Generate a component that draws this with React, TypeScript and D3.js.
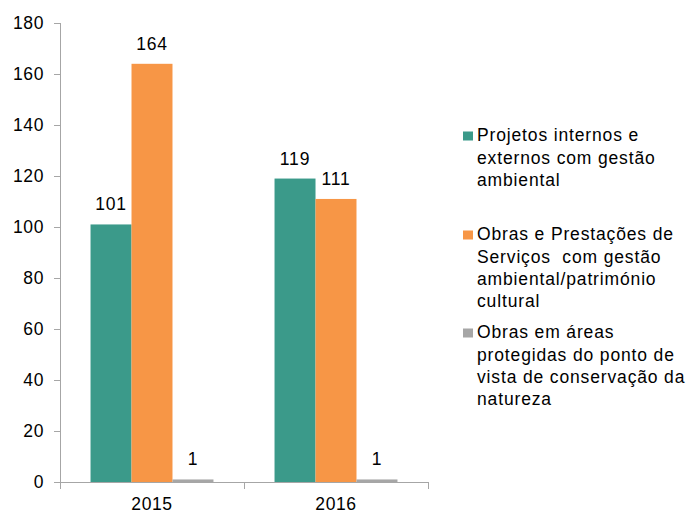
import React from "react";
// @ts-ignore
import * as d3 from "d3";

const categories = ["2015", "2016"];
const seriesNames = [
  "Projetos internos e externos com gestão ambiental",
  "Obras e Prestações de Serviços  com gestão ambiental/património cultural",
  "Obras em áreas protegidas do ponto de vista de conservação da natureza",
];
const legendLines = [
  ["Projetos internos e", "externos com gestão", "ambiental"],
  ["Obras e Prestações de", "Serviços  com gestão", "ambiental/património", "cultural"],
  ["Obras em áreas", "protegidas do ponto de", "vista de conservação da", "natureza"],
];
const values2015 = [101, 164, 1];
const values2016 = [119, 111, 1];
const yTicks = [0, 20, 40, 60, 80, 100, 120, 140, 160, 180];
const colors = ["#3b9a8a", "#f79646", "#a6a6a6"];

const W = 687;
const H = 515;
const FONT = "'Liberation Sans', Arial, sans-serif";
const FS = 17.5;

const App = () => {
  const svgRef = React.useRef<SVGSVGElement>(null);

  React.useEffect(() => {
    const svg = d3.select(svgRef.current);
    svg.selectAll("*").remove();

    const rows = [values2015, values2016];

    const y = d3.scaleLinear().domain([0, 180]).range([482, 23]);
    const x0 = d3.scaleBand().domain(categories).range([60, 428]);
    const x1 = d3
      .scaleBand()
      .domain(d3.range(seriesNames.length))
      .range([0, x0.bandwidth()])
      .paddingInner(0)
      .paddingOuter(0.745);

    const axisColor = "#a6a6a6";

    // y axis
    const ya = svg.append("g");
    ya.append("line")
      .attr("x1", 60.5).attr("x2", 60.5)
      .attr("y1", y(180)).attr("y2", y(0))
      .attr("stroke", axisColor);
    yTicks.forEach((t) => {
      ya.append("line")
        .attr("x1", 54).attr("x2", 60)
        .attr("y1", Math.round(y(t)) + 0.5).attr("y2", Math.round(y(t)) + 0.5)
        .attr("stroke", axisColor);
      ya.append("text")
        .attr("x", 44)
        .attr("y", y(t))
        .attr("dy", "0.35em")
        .attr("text-anchor", "end")
        .attr("font-family", FONT)
        .attr("font-size", FS)
        .attr("letter-spacing", 0.6)
        .attr("fill", "#000")
        .text(t);
    });

    // bars
    const g = svg.append("g");
    categories.forEach((c, ci) => {
      rows[ci].forEach((v, si) => {
        const bx = (x0(c) as number) + (x1(si) as number);
        g.append("rect")
          .attr("x", bx)
          .attr("y", y(v))
          .attr("width", x1.bandwidth())
          .attr("height", y(0) - y(v))
          .attr("fill", colors[si]);
        g.append("text")
          .attr("x", bx + x1.bandwidth() / 2)
          .attr("y", y(v) - 14)
          .attr("text-anchor", "middle")
          .attr("font-family", FONT)
          .attr("font-size", FS)
          .attr("letter-spacing", 0.8)
          .text(v);
      });
    });

    // x axis
    const xa = svg.append("g");
    xa.append("line")
      .attr("x1", 60).attr("x2", 428)
      .attr("y1", 482.5).attr("y2", 482.5)
      .attr("stroke", axisColor);
    [60, ...categories.map((c) => (x0(c) as number) + x0.bandwidth())].forEach((tx) => {
      xa.append("line")
        .attr("x1", Math.round(tx) + 0.5).attr("x2", Math.round(tx) + 0.5)
        .attr("y1", 482).attr("y2", 489)
        .attr("stroke", axisColor);
    });
    categories.forEach((c) => {
      xa.append("text")
        .attr("x", (x0(c) as number) + x0.bandwidth() / 2)
        .attr("y", 510)
        .attr("text-anchor", "middle")
        .attr("font-family", FONT)
        .attr("font-size", FS)
        .attr("letter-spacing", 0.6)
        .text(c);
    });

    // legend
    const lg = svg.append("g");
    const starts = [136, 235, 333];
    legendLines.forEach((lines, i) => {
      lg.append("rect")
        .attr("x", 463)
        .attr("y", starts[i] - 4.5)
        .attr("width", 10)
        .attr("height", 9)
        .attr("fill", colors[i]);
      lines.forEach((ln, j) => {
        lg.append("text")
          .attr("x", 477)
          .attr("y", starts[i] + j * 22.4)
          .attr("dy", "0.3em")
          .attr("font-family", FONT)
          .attr("font-size", FS)
          .attr("letter-spacing", 0.85)
          .attr("xml:space", "preserve")
          .text(ln);
      });
    });
  }, []);

  return (
    <svg
      ref={svgRef}
      width={W}
      height={H}
      style={{ position: "absolute", left: 0, top: 0, background: "#fff" }}
    />
  );
};

export default App;
